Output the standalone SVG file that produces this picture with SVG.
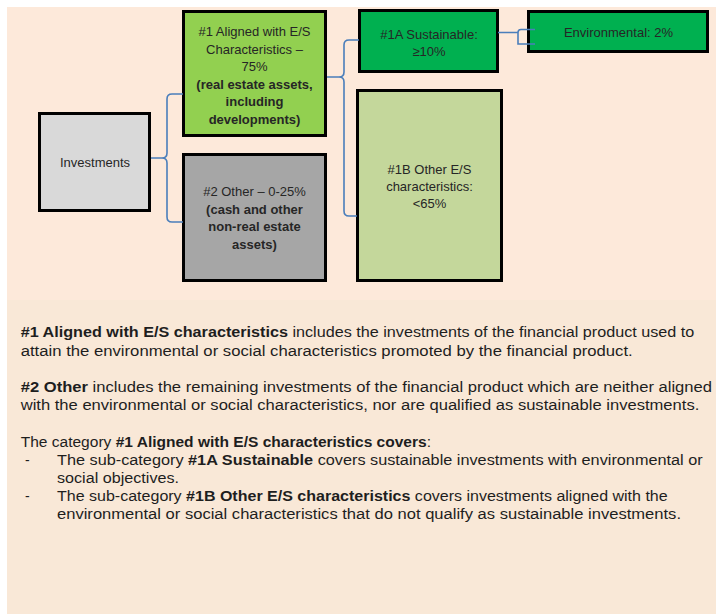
<svg xmlns="http://www.w3.org/2000/svg" width="716" height="614" viewBox="0 0 716 614">
<style>
.box{stroke:#000;stroke-width:3}
.bt{font-family:"Liberation Sans",Arial,sans-serif;font-size:13px;fill:#262626;text-anchor:middle}
.bt .b{font-weight:bold}
.conn{fill:none;stroke:#4A7EBB;stroke-width:1.6}
.p{font-family:"Liberation Sans",Arial,sans-serif;font-size:14px;fill:#1E1E1E}
.p .b{font-weight:bold}
</style>
<rect x="0" y="0" width="716" height="614" fill="#FFFFFF"/>
<rect x="7" y="7" width="709" height="293" fill="#FDE9DA"/>
<rect x="7" y="300" width="709" height="314" fill="#F9E8D7"/>

<g id="node-investments">
<rect class="box" x="39.5" y="113.5" width="110" height="97" fill="#D9D9D9"/>
<text class="bt" x="95" y="167">Investments</text>
</g>
<g id="node-aligned">
<rect class="box" x="183.5" y="11.5" width="142" height="124" fill="#92D050"/>
<text class="bt" x="254.5" y="36">#1 Aligned with E/S</text>
<text class="bt" x="254.5" y="53.5">Characteristics –</text>
<text class="bt" x="254.5" y="71">75%</text>
<text class="bt" x="254.5" y="88.5"><tspan class="b">(real estate assets,</tspan></text>
<text class="bt" x="254.5" y="106"><tspan class="b">including</tspan></text>
<text class="bt" x="254.5" y="123.5"><tspan class="b">developments)</tspan></text>
</g>
<g id="node-other">
<rect class="box" x="183.5" y="154.5" width="142" height="126" fill="#A6A6A6"/>
<text class="bt" x="254.5" y="196">#2 Other – 0-25%</text>
<text class="bt" x="254.5" y="213.5"><tspan class="b">(cash and other</tspan></text>
<text class="bt" x="254.5" y="231"><tspan class="b">non-real estate</tspan></text>
<text class="bt" x="254.5" y="248.5"><tspan class="b">assets)</tspan></text>
</g>
<g id="node-sustainable">
<rect class="box" x="359.5" y="10.5" width="138" height="61" fill="#00B050"/>
<text class="bt" x="429" y="38.5">#1A Sustainable:</text>
<text class="bt" x="429" y="56">≥10%</text>
</g>
<g id="node-environmental">
<rect class="box" x="528.5" y="11.5" width="179" height="40" fill="#00B050"/>
<text class="bt" x="618.5" y="37">Environmental: 2%</text>
</g>
<g id="node-other-es">
<rect class="box" x="357.5" y="90.5" width="144" height="190" fill="#C4D79B"/>
<text class="bt" x="429.5" y="173.5">#1B Other E/S</text>
<text class="bt" x="429.5" y="190.5">characteristics:</text>
<text class="bt" x="429.5" y="207.5">&lt;65%</text>
</g>

<g id="connectors">
<path class="conn" d="M183,94 H172 Q167,94 167,99 V153 Q167,158 162,158 H151 M183,222 H172 Q167,222 167,217 V163 Q167,158 162,158"/>
<path class="conn" d="M359,40 H349 Q344,40 344,45 V72 Q344,77 339,77 H327 M357,216 H349 Q344,216 344,211 V82 Q344,77 339,77"/>
<path class="conn" d="M498,32.5 H518 M535,29.5 H521 Q518,29.5 518,32.5 V44 H535"/>
</g>

<g id="notes">
<text class="p" x="20.7" y="337" textLength="673.6" lengthAdjust="spacingAndGlyphs"><tspan class="b">#1 Aligned with E/S characteristics</tspan> includes the investments of the financial product used to</text>
<text class="p" x="20.7" y="355.5" textLength="612" lengthAdjust="spacingAndGlyphs">attain the environmental or social characteristics promoted by the financial product.</text>
<text class="p" x="20.7" y="391.5" textLength="691.3" lengthAdjust="spacingAndGlyphs"><tspan class="b">#2 Other</tspan> includes the remaining investments of the financial product which are neither aligned</text>
<text class="p" x="20.7" y="410" textLength="678.6" lengthAdjust="spacingAndGlyphs">with the environmental or social characteristics, nor are qualified as sustainable investments.</text>
<text class="p" x="20.7" y="446.5" textLength="410.3" lengthAdjust="spacingAndGlyphs">The category <tspan class="b">#1 Aligned with E/S characteristics covers</tspan>:</text>
<text class="p" x="25" y="464.5">-</text>
<text class="p" x="57" y="464.5" textLength="645.7" lengthAdjust="spacingAndGlyphs">The sub-category <tspan class="b">#1A Sustainable</tspan> covers sustainable investments with environmental or</text>
<text class="p" x="57" y="482.5" textLength="122" lengthAdjust="spacingAndGlyphs">social objectives.</text>
<text class="p" x="25" y="500.5">-</text>
<text class="p" x="57" y="500.5" textLength="610.7" lengthAdjust="spacingAndGlyphs">The sub-category <tspan class="b">#1B Other E/S characteristics</tspan> covers investments aligned with the</text>
<text class="p" x="57" y="518.5" textLength="624" lengthAdjust="spacingAndGlyphs">environmental or social characteristics that do not qualify as sustainable investments.</text>
</g>
</svg>
